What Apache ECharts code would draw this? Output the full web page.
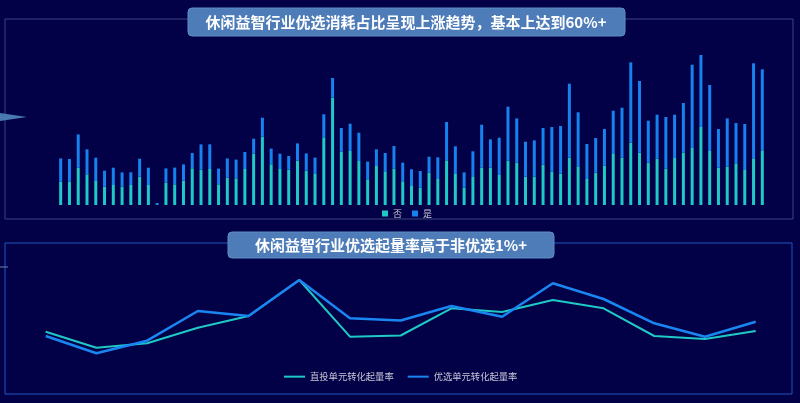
<!DOCTYPE html>
<html>
<head>
<meta charset="utf-8">
<script src="https://cdn.jsdelivr.net/npm/echarts@6/dist/echarts.min.js"></script>
<style>
html,body{margin:0;padding:0;background:#020046;}
#main{width:800px;height:403px;}
</style>
</head>
<body>
<div id="main"></div>
<script>
// ---- data ----
const barCategories = Array.from({length: 81}, (_, i) => '第' + (i + 1) + '天');
const seriesNo = [23.3,23.3,37.3,30.7,24,18.3,20,18.3,20,28.3,
  20,0.7,22.3,20.7,24.3,36.7,35.3,36,20.7,27.3,
  26.7,36,51.3,68.3,40.7,36,35.3,44.3,34.3,31.7,
  67.7,107.3,53.3,54,44,25.7,39,33.7,36.3,23.7,
  19,17.3,32.3,26,44.7,31,17.3,28,37.3,37.3,
  30,44.3,42.3,28.3,28.3,40.3,33.3,31.3,47.3,38.7,
  26,32.3,39.3,51,47.3,62.3,52.3,42.3,46.3,36.3,
  47,52.3,57,78,54,37.3,38.3,41.7,35,46.7,54.7];
const seriesYes = [23.3,22.7,33.3,25,23.3,16,17.3,14.3,12.7,18,
  17.3,1.3,14.3,16.7,16.3,15.3,25.3,24.7,15.7,19.3,
  18.7,17,15,19,15.7,15.3,13.7,17.3,17.3,15.7,
  23,19.7,23.7,27.3,28.3,17.7,16.7,18.3,22.7,18.7,
  16.7,16.7,16,21.7,38.3,27.7,15.3,25.7,43,28.3,
  37.3,54,44.3,35,36.3,36.7,44.7,47.7,74,54,
  35,34.7,36.7,43.3,50,80.3,71.7,42,44,51.7,
  43.3,49.7,83.3,72,66,38.7,48.3,40.3,46,95,81];
const lineCategories = ['1','2','3','4','5','6','7','8','9','10','11','12','13','14','15'];
const directRate = [4.83,3.23,3.67,5.23,6.4,10.0,4.33,4.45,7.17,6.8,8.0,7.17,4.4,4.1,4.9];
const preferRate = [4.4,2.67,3.93,6.9,6.4,10.0,6.17,5.95,7.4,6.33,9.67,8.1,5.67,4.33,5.83];
const title1 = '休闲益智行业优选消耗占比呈现上涨趋势，基本上达到60%+';
const title2 = '休闲益智行业优选起量率高于非优选1%+';

const CYAN = '#1fc9c6';
const BLUE = '#1582ee';
const LBLUE = '#1a86f2';
const FONT = '"Noto Sans CJK SC", "Noto Sans", sans-serif';

const chart = echarts.init(document.getElementById('main'), null, {renderer: 'canvas'});
chart.setOption({
  backgroundColor: '#020046',
  animation: false,
  textStyle: {fontFamily: FONT},
  grid: [
    {left: 56.3, right: 33.3, top: 45, height: 160},
    {left: 45.7, right: 44.3, top: 260, height: 120}
  ],
  xAxis: [
    {gridIndex: 0, type: 'category', data: barCategories, show: false},
    {gridIndex: 1, type: 'category', data: lineCategories, boundaryGap: false, show: false}
  ],
  yAxis: [
    {gridIndex: 0, type: 'value', min: 0, max: 160, show: false},
    {gridIndex: 1, type: 'value', min: 0, max: 12, show: false}
  ],
  legend: [
    {data: ['否', '是'], left: 377, top: 204, itemWidth: 6, itemHeight: 6, itemGap: 10,
      icon: 'rect', textStyle: {color: '#c8c8d8', fontSize: 9, fontFamily: FONT}},
    {data: ['直投单元转化起量率', '优选单元转化起量率'], left: 279, top: 367, itemWidth: 21, itemHeight: 2, itemGap: 14,
      icon: 'rect', textStyle: {color: '#c8c8d8', fontSize: 9.3, fontFamily: FONT}}
  ],
  graphic: [
    {type: 'rect', shape: {x: 5, y: 19, width: 788, height: 200}, style: {fill: 'none', stroke: '#38477e', lineWidth: 1}, z: 0},
    {type: 'rect', shape: {x: 5, y: 243, width: 787, height: 151}, style: {fill: 'none', stroke: '#1c57be', lineWidth: 1}, z: 0},
    {type: 'polygon', shape: {points: [[0, 113], [27, 117], [0, 121]]}, style: {fill: '#4a78b0'}, z: 1},
    {type: 'line', shape: {x1: 0, y1: 267, x2: 8, y2: 267}, style: {stroke: '#7080a8', lineWidth: 1}, z: 1},
    {type: 'rect', shape: {x: 188, y: 8, width: 437, height: 28, r: 4}, style: {fill: '#4d7cb8', stroke: '#5f8cc4', lineWidth: 1}, z: 10},
    {type: 'text', x: 406, y: 22, style: {text: title1, fill: '#ffffff', font: 'bold 15px ' + FONT, textAlign: 'center', textVerticalAlign: 'middle'}, z: 11},
    {type: 'rect', shape: {x: 228, y: 232, width: 326, height: 26, r: 4}, style: {fill: '#4d7cb8', stroke: '#5f8cc4', lineWidth: 1}, z: 10},
    {type: 'text', x: 391, y: 245, style: {text: title2, fill: '#ffffff', font: 'bold 15px ' + FONT, textAlign: 'center', textVerticalAlign: 'middle'}, z: 11}
  ],
  series: [
    {name: '否', type: 'bar', stack: 'a', xAxisIndex: 0, yAxisIndex: 0, data: seriesNo, barWidth: 3,
      itemStyle: {color: CYAN}},
    {name: '是', type: 'bar', stack: 'a', xAxisIndex: 0, yAxisIndex: 0, data: seriesYes, barWidth: 3,
      itemStyle: {color: BLUE}},
    {name: '直投单元转化起量率', type: 'line', xAxisIndex: 1, yAxisIndex: 1, data: directRate,
      symbol: 'none', lineStyle: {color: CYAN, width: 2}, itemStyle: {color: CYAN}},
    {name: '优选单元转化起量率', type: 'line', xAxisIndex: 1, yAxisIndex: 1, data: preferRate,
      symbol: 'none', lineStyle: {color: LBLUE, width: 2.5}, itemStyle: {color: LBLUE}}
  ]
});
</script>
</body>
</html>
